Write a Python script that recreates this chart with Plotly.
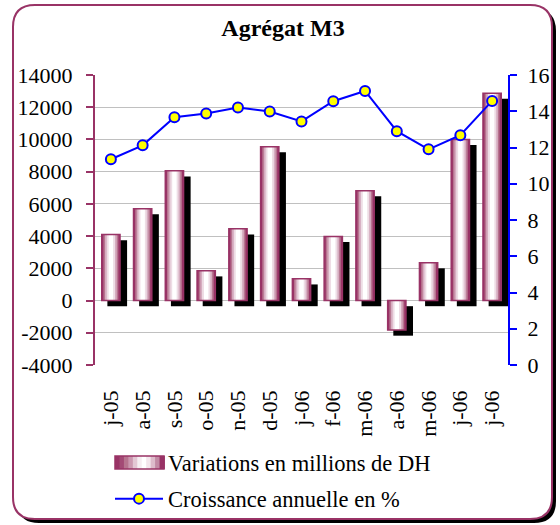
import plotly.graph_objects as go

# ---- data ----
categories = ["j-05", "a-05", "s-05", "o-05", "n-05", "d-05", "j-06",
              "f-06", "m-06", "a-06", "m-06", "j-06", "j-06"]
variations = [4100, 5700, 8050, 1850, 4450, 9550, 1350,
              3980, 6820, -1830, 2350, 10000, 12870]
croissance = [11.35, 12.12, 13.67, 13.88, 14.21, 13.99, 13.44,
              14.55, 15.12, 12.9, 11.9, 12.68, 14.57]
left_ticks = list(range(-4000, 14001, 2000))
left_labels = [str(v) for v in left_ticks]
right_ticks = list(range(0, 17, 2))
right_labels = [str(v) for v in right_ticks]

x = list(range(len(categories)))
MAROON = "#993366"
FONT = "Liberation Serif"

W, H = 560, 525
L, R, T, B = 95, 52, 75, 160
PW, PH = W - L - R, H - T - B


def px(xp):
    return (xp - L) / PW


def py(yp):
    return (H - B - yp) / PH


def rrect(x0, y0, x1, y1, r):
    pts = [
        f"M{px(x0 + r)},{py(y0)}",
        f"L{px(x1 - r)},{py(y0)}",
        f"Q{px(x1)},{py(y0)} {px(x1)},{py(y0 + r)}",
        f"L{px(x1)},{py(y1 - r)}",
        f"Q{px(x1)},{py(y1)} {px(x1 - r)},{py(y1)}",
        f"L{px(x0 + r)},{py(y1)}",
        f"Q{px(x0)},{py(y1)} {px(x0)},{py(y1 - r)}",
        f"L{px(x0)},{py(y0 + r)}",
        f"Q{px(x0)},{py(y0)} {px(x0 + r)},{py(y0)}",
        "Z",
    ]
    return " ".join(pts)


fig = go.Figure()

# shadow bars
fig.add_trace(go.Bar(x=x, y=variations, base=-350, width=0.62, offset=-0.11,
                     marker=dict(color="black", line=dict(width=0)),
                     showlegend=False, hoverinfo="skip"))

# gradient layers of the front bars
grad_w = [0.575, 0.47, 0.37, 0.26, 0.14]
grad_c = [MAROON, "#b7748f", "#d6adc0", "#eedde5", "#ffffff"]
for w, c in zip(grad_w, grad_c):
    fig.add_trace(go.Bar(x=x, y=variations, width=w, offset=-w / 2,
                         marker=dict(color=c, line=dict(width=0)),
                         showlegend=False, hoverinfo="skip"))

# outline of the front bars
fig.add_trace(go.Bar(x=x, y=variations, width=0.575, offset=-0.2875,
                     marker=dict(color="rgba(0,0,0,0)",
                                 line=dict(color=MAROON, width=1.5)),
                     showlegend=False, hoverinfo="skip"))

# legend entry for the bars (swatch drawn as shapes below)
fig.add_trace(go.Scatter(x=[None], y=[None], mode="markers",
                         name="Variations en millions de DH",
                         marker=dict(color="rgba(0,0,0,0)", size=1),
                         legend="legend"))

# growth line
fig.add_trace(go.Scatter(x=x, y=croissance, yaxis="y2", mode="lines+markers",
                         name="Croissance annuelle en %",
                         line=dict(color="#0000ff", width=2),
                         marker=dict(size=10, color="#ffff00",
                                     line=dict(color="#0000ff", width=2)),
                         legend="legend2"))

tickfont = dict(family=FONT, size=22, color="black")

# legend swatch for bars: horizontal gradient rectangle
sw_x0, sw_x1, sw_y0, sw_y1 = 115, 164, 456, 469
sw_cols = [MAROON, "#a34a75", "#b7748f", "#cc98b0", "#e3c7d4", "#f6eef2",
           "#ffffff", "#f3e6ec", "#ddbccb", "#c28aa4", MAROON]
swatch_shapes = []
n = len(sw_cols)
for i, c in enumerate(sw_cols):
    a = sw_x0 + (sw_x1 - sw_x0) * i / n
    b = sw_x0 + (sw_x1 - sw_x0) * (i + 1) / n
    swatch_shapes.append(dict(type="rect", xref="paper", yref="paper",
                              x0=px(a), x1=px(b) + 0.002, y0=py(sw_y1),
                              y1=py(sw_y0), fillcolor=c, line=dict(width=0),
                              layer="above"))
swatch_shapes.append(dict(type="rect", xref="paper", yref="paper",
                          x0=px(sw_x0), x1=px(sw_x1), y0=py(sw_y1),
                          y1=py(sw_y0), fillcolor="rgba(0,0,0,0)",
                          line=dict(color=MAROON, width=1.5), layer="above"))

legend_font = dict(family=FONT, size=22.5, color="black")

fig.update_layout(
    width=W, height=H,
    margin=dict(l=L, r=R, t=T, b=B, autoexpand=False),
    paper_bgcolor="white",
    plot_bgcolor="rgba(0,0,0,0)",
    barmode="overlay",
    title=dict(text="<b>Agrégat M3</b>", x=283 / W, xref="container",
               y=1 - 28 / H, yref="container", xanchor="center",
               yanchor="middle", font=dict(family=FONT, size=24, color="black")),
    xaxis=dict(range=[-0.5, len(categories) - 0.5], tickvals=x,
               ticktext=categories, tickangle=-90, tickfont=tickfont,
               ticks="", ticklabelstandoff=20, showgrid=False,
               showline=False, zeroline=False),
    xaxis2=dict(overlaying="x", anchor="free", position=4000 / 18000,
                range=[-0.5, len(categories) - 0.5],
                tickvals=[i - 0.5 for i in range(len(categories) + 1)],
                ticks="outside", ticklen=7, tickwidth=1.5, tickcolor="black",
                showline=True, linecolor="black", linewidth=1.5,
                showticklabels=False, showgrid=False, zeroline=False),
    xaxis3=dict(overlaying="x", anchor="free", position=4000 / 18000,
                range=[-0.5, len(categories) - 0.5],
                tickvals=[i - 0.5 for i in range(len(categories) + 1)],
                ticks="inside", ticklen=5, tickwidth=1.5, tickcolor="black",
                showline=False, showticklabels=False, showgrid=False,
                zeroline=False),
    yaxis=dict(range=[-4000, 14000], tickvals=left_ticks, ticktext=left_labels,
               tickfont=tickfont,
               showgrid=True, gridcolor="#c0c0c0", gridwidth=1,
               showline=True, linecolor=MAROON, linewidth=2,
               ticks="outside", ticklen=7, tickwidth=2, tickcolor=MAROON,
               ticklabelstandoff=9, zeroline=False),
    yaxis3=dict(overlaying="y", anchor="x", side="left",
                range=[-4000, 14000], tickvals=left_ticks,
                ticks="inside", ticklen=5, tickwidth=2, tickcolor=MAROON,
                showticklabels=False, showgrid=False, showline=False,
                zeroline=False),
    yaxis2=dict(overlaying="y", anchor="x", side="right", range=[0, 16],
                tickvals=right_ticks, ticktext=right_labels, tickfont=tickfont,
                showgrid=False,
                showline=True, linecolor="#0000ff", linewidth=2,
                ticks="outside", ticklen=7, tickwidth=2, tickcolor="#0000ff",
                ticklabelstandoff=6, zeroline=False),
    yaxis4=dict(overlaying="y", anchor="x", side="right", range=[0, 16],
                tickvals=right_ticks, ticks="inside", ticklen=5, tickwidth=2,
                tickcolor="#0000ff", showticklabels=False, showgrid=False,
                showline=False, zeroline=False),
    legend=dict(x=px(110), y=py(463), xanchor="left", yanchor="middle",
                font=legend_font, itemwidth=48, bgcolor="rgba(0,0,0,0)"),
    legend2=dict(x=px(110), y=py(499), xanchor="left", yanchor="middle",
                 font=legend_font, itemwidth=48, bgcolor="rgba(0,0,0,0)"),
    shapes=[
        dict(type="path", xref="paper", yref="paper", layer="below",
             path=rrect(17, 9, 556, 523, 22), fillcolor="black",
             line=dict(width=0)),
        dict(type="path", xref="paper", yref="paper", layer="below",
             path=rrect(13, 5, 552, 519, 22), fillcolor="white",
             line=dict(color=MAROON, width=2)),
    ] + swatch_shapes,
)

fig.write_html("out.html",
               config={"displayModeBar": False},
               post_script="document.body.style.margin='0';"
                           "document.body.style.overflow='hidden';")
